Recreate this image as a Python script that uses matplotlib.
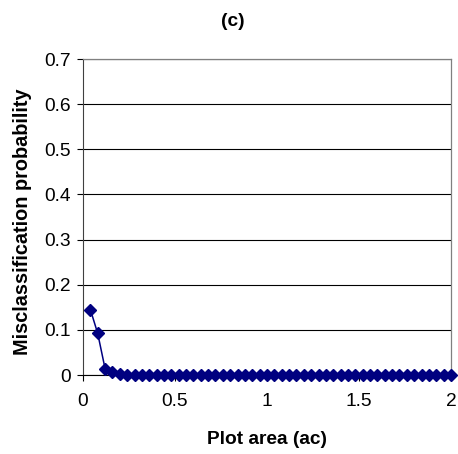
import matplotlib

matplotlib.use("Agg")
import matplotlib.pyplot as plt
from matplotlib.ticker import FuncFormatter

# misclassification probability against plot area (acres)
plot_area = [round(0.04 * (i + 1), 2) for i in range(50)]
misclass_prob = [0.145, 0.092, 0.014, 0.006, 0.002] + [0.0] * 45

x_ticks = [0, 0.5, 1, 1.5, 2]
y_ticks = [0, 0.1, 0.2, 0.3, 0.4, 0.5, 0.6, 0.7]

plt.rcParams["font.family"] = ["Liberation Sans", "DejaVu Sans"]

fig = plt.figure(figsize=(4.58, 4.54), dpi=100)
ax = fig.add_axes([83 / 458, 79 / 454, 368 / 458, 316 / 454])

ax.plot(plot_area, misclass_prob, color="#000080", linewidth=1.1,
        marker="D", markersize=6.4, clip_on=False, zorder=3)

ax.set_xlim(0, 2)
ax.set_ylim(0, 0.7)
ax.set_xticks(x_ticks)
ax.set_yticks(y_ticks)
fmt = FuncFormatter(lambda v, pos: f"{v:g}")
ax.xaxis.set_major_formatter(fmt)
ax.yaxis.set_major_formatter(fmt)

ax.yaxis.grid(True, color="black", linewidth=0.8)
ax.set_axisbelow(True)

ax.tick_params(axis="both", labelsize=13.8, direction="out", color="black", width=0.8)
ax.tick_params(axis="y", length=4.5, pad=4)
ax.tick_params(axis="x", length=4, pad=9)

for side in ("top", "right"):
    ax.spines[side].set_color("#808080")
    ax.spines[side].set_linewidth(0.9)
ax.spines["left"].set_color("#404040")
ax.spines["bottom"].set_color("black")

ax.set_xlabel("Plot area (ac)", fontsize=13.8, fontweight="bold")
ax.xaxis.set_label_coords(0.5, -0.205)
ax.xaxis.label.set_va("center")
ax.set_ylabel("Misclassification probability", fontsize=14.3, fontweight="bold")
ax.yaxis.set_label_coords(-0.165, 0.484)
ax.yaxis.label.set_va("center")

fig.text(233 / 458, 1 - 22 / 454, "(c)", fontsize=13.8, fontweight="bold",
         ha="center", va="center")

fig.savefig("out.png", dpi=100, facecolor="white")
